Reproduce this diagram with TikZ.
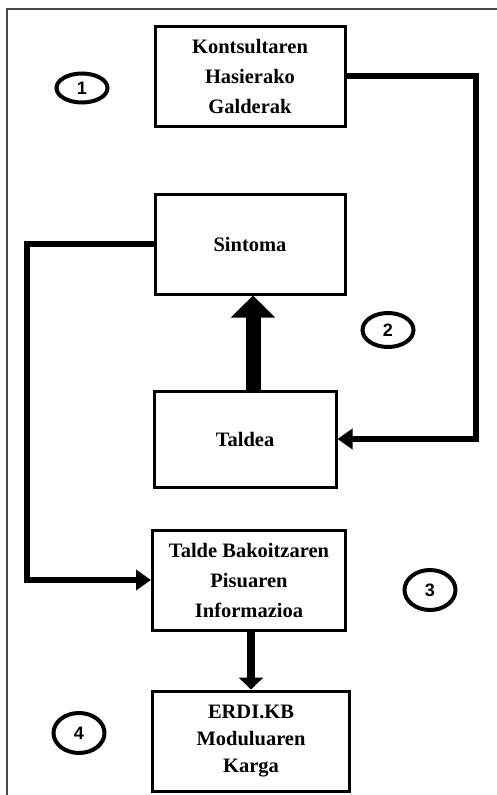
\documentclass[tikz,border=0pt]{standalone}
\usepackage{fontspec}
\setmainfont{Liberation Serif}
\setsansfont{Liberation Sans}
\usepackage{xcolor}
\usetikzlibrary{positioning,arrows.meta,shapes.geometric}
\definecolor{ink}{HTML}{000000}
\definecolor{rule}{HTML}{4A4A4A}
\tikzset{
  bx/.style={draw=ink, line width=3pt, fill=white, align=center,
             font=\fontsize{20.5}{30}\selectfont\bfseries,
             minimum width=190pt, minimum height=100pt, inner sep=2pt},
  num/.style={ellipse, draw=ink, line width=4pt, inner sep=0pt,
              minimum width=51pt, minimum height=34pt,
              font=\fontsize{18}{18}\selectfont\sffamily\bfseries},
  ar/.style={-{Triangle[length=15pt,width=20pt]}, line width=6pt, color=ink},
  fr/.style={line width=1.5pt, color=rule},
}
\begin{document}
\begin{tikzpicture}[x=1pt, y=-1pt]
\useasboundingbox (0,0) rectangle (497,795);
% frame
\draw[fr] (7,795) -- (7,9) -- (497,9);

% boxes
\node[bx] (kon) at (250,76) {Kontsultaren\\Hasierako\\Galderak};
\node[bx] (sin) [below=65pt of kon] {Sintoma};
\node[bx, minimum width=182pt, minimum height=96pt] (tal) [below=94pt of sin, xshift=-5pt] {Taldea};
\node[bx, minimum width=193pt] (pis) [below=40pt of tal, xshift=4pt] {Talde Bakoitzaren\\Pisuaren\\Informazioa};
\node[bx, minimum width=197pt, font=\fontsize{20.5}{27}\selectfont\bfseries] (erd) [below=58pt of pis, xshift=2pt] {ERDI.KB\\Moduluaren\\Karga};

% numbers
\node[num, minimum height=29pt] (n1) at (82,88) {1};
\node[num] (n2) at (388,330) {2};
\node[num, minimum height=40pt] (n3) at (430,590) {3};
\node[num, minimum height=40pt] (n4) at (79,733) {4};

% connectors
\draw[ar] (kon.east) -- ++(129,0) |- (tal.east);
\draw[ar] (sin.west) -- ++(-127,0) |- (pis.west);
\draw[-{Triangle[length=22pt,width=43pt]}, line width=15pt] (tal.north -| 253,0) -- (sin.south -| 253,0);
\draw[-{Triangle[length=12pt,width=24pt]}, line width=8pt] (pis.south -| 251,0) -- (erd.north -| 251,0);
\end{tikzpicture}
\end{document}
